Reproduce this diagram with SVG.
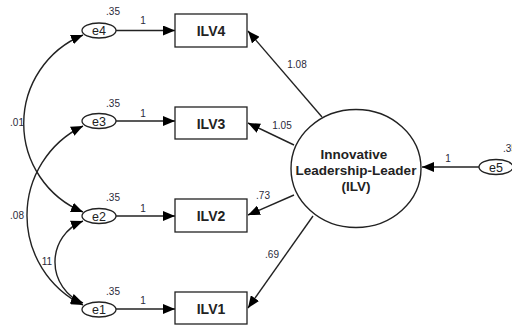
<svg xmlns="http://www.w3.org/2000/svg" width="512" height="326" viewBox="0 0 512 326">
  <defs>
    <marker id="arrow" viewBox="0 0 12 10" refX="12" refY="5" markerWidth="12" markerHeight="10" markerUnits="userSpaceOnUse" orient="auto-start-reverse">
      <path d="M0,0 L12,5 L0,10 Z" fill="#000"/>
    </marker>
  </defs>
  <style>
    .box { fill: #fff; stroke: #222; stroke-width: 1.3; }
    .err { fill: #fff; stroke: #222; stroke-width: 1.3; }
    .latent { fill: #fff; stroke: #222; stroke-width: 1.4; }
    .edge { fill: none; stroke: #222; stroke-width: 1.4; }
    .lbl { font-family: "Liberation Sans", Arial, sans-serif; font-size: 10px; fill: #2a2a3a; text-anchor: middle; }
    .etxt { font-family: "Liberation Sans", Arial, sans-serif; font-size: 12.5px; fill: #222; text-anchor: middle; }
    .btxt { font-family: "Liberation Sans", Arial, sans-serif; font-size: 14px; font-weight: bold; fill: #222; text-anchor: middle; }
    .ltxt { font-family: "Liberation Sans", Arial, sans-serif; font-size: 13.5px; font-weight: bold; fill: #222; text-anchor: middle; }
  </style>

  <!-- connectors -->
  <g id="connectors">
    <!-- error -> indicator paths -->
    <path class="edge" d="M116,30.5 L175,30.5" marker-end="url(#arrow)"/>
    <path class="edge" d="M116,121 L175,121" marker-end="url(#arrow)"/>
    <path class="edge" d="M116,216 L175,216" marker-end="url(#arrow)"/>
    <path class="edge" d="M116,309 L175,309" marker-end="url(#arrow)"/>
    <!-- latent -> indicator loadings -->
    <path class="edge" d="M322,117 L248,31" marker-end="url(#arrow)"/>
    <path class="edge" d="M294,145 L248,123" marker-end="url(#arrow)"/>
    <path class="edge" d="M294,195 L248,215" marker-end="url(#arrow)"/>
    <path class="edge" d="M313,216 L248,308" marker-end="url(#arrow)"/>
    <!-- disturbance -> latent -->
    <path class="edge" d="M479,167 L422,167" marker-end="url(#arrow)"/>
    <!-- error covariances -->
    <path class="edge" d="M83,35 A95.7,95.7 0 0 0 83,212" marker-start="url(#arrow)" marker-end="url(#arrow)"/>
    <path class="edge" d="M83,126 A99.5,99.5 0 0 0 83,305" marker-start="url(#arrow)" marker-end="url(#arrow)"/>
    <path class="edge" d="M83,221 A44,44 0 0 0 83,303" marker-start="url(#arrow)" marker-end="url(#arrow)"/>

    <text class="lbl" x="143" y="24">1</text>
    <text class="lbl" x="143" y="117">1</text>
    <text class="lbl" x="143" y="212">1</text>
    <text class="lbl" x="143" y="304">1</text>
    <text class="lbl" x="297" y="68">1.08</text>
    <text class="lbl" x="282" y="129">1.05</text>
    <text class="lbl" x="263" y="199">.73</text>
    <text class="lbl" x="272" y="258">.69</text>
    <text class="lbl" x="448" y="162">1</text>
    <text class="lbl" x="17" y="126">.01</text>
    <text class="lbl" x="17" y="219">.08</text>
    <text class="lbl" x="47" y="265">11</text>
  </g>

  <!-- error terms -->
  <g id="e4">
    <ellipse class="err" cx="99" cy="30.5" rx="17" ry="7.5"/>
    <text class="etxt" x="99" y="35">e4</text>
    <text class="lbl" x="113" y="15">.35</text>
  </g>
  <g id="e3">
    <ellipse class="err" cx="99" cy="121" rx="17" ry="7.5"/>
    <text class="etxt" x="99" y="125.5">e3</text>
    <text class="lbl" x="113" y="107">.35</text>
  </g>
  <g id="e2">
    <ellipse class="err" cx="99" cy="216" rx="17" ry="7.5"/>
    <text class="etxt" x="99" y="220.5">e2</text>
    <text class="lbl" x="113" y="201">.35</text>
  </g>
  <g id="e1">
    <ellipse class="err" cx="99" cy="309.5" rx="17" ry="7.5"/>
    <text class="etxt" x="99" y="314">e1</text>
    <text class="lbl" x="113" y="295">.35</text>
  </g>
  <g id="e5">
    <ellipse class="err" cx="496" cy="167" rx="17" ry="7.5"/>
    <text class="etxt" x="496" y="171.5">e5</text>
    <text class="lbl" x="503" y="152" style="text-anchor:start">.35</text>
  </g>

  <!-- observed indicators -->
  <g id="ILV4">
    <rect class="box" x="175" y="14" width="72" height="33"/>
    <text class="btxt" x="211" y="36">ILV4</text>
  </g>
  <g id="ILV3">
    <rect class="box" x="175" y="107" width="72" height="32"/>
    <text class="btxt" x="211" y="128.5">ILV3</text>
  </g>
  <g id="ILV2">
    <rect class="box" x="175" y="199" width="72" height="33"/>
    <text class="btxt" x="211" y="221">ILV2</text>
  </g>
  <g id="ILV1">
    <rect class="box" x="175" y="292" width="72" height="32"/>
    <text class="btxt" x="211" y="313.5">ILV1</text>
  </g>

  <!-- latent construct -->
  <g id="ILV">
    <ellipse class="latent" cx="356" cy="168.5" rx="65" ry="59"/>
    <text class="ltxt" x="354" y="159">Innovative</text>
    <text class="ltxt" x="356" y="175">Leadership-Leader</text>
    <text class="ltxt" x="356" y="191">(ILV)</text>
  </g>
</svg>
